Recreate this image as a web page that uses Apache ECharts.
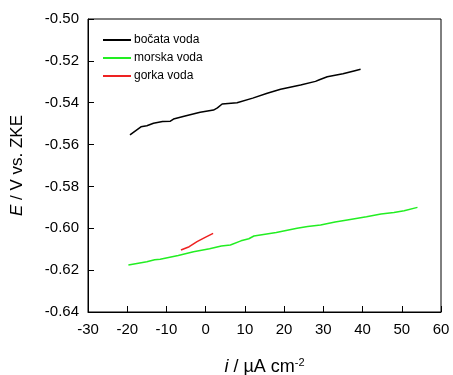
<!DOCTYPE html>
<html><head><meta charset="utf-8">
<script src="https://cdn.jsdelivr.net/npm/echarts@6/dist/echarts.min.js"></script>
<style>html,body{margin:0;padding:0;background:#fff}#c{width:453px;height:375px}</style>
</head><body><div id="c"></div>
<script>
const xTicks = [-30,-20,-10,0,10,20,30,40,50,60];
const yTicks = [-0.64,-0.62,-0.60,-0.58,-0.56,-0.54,-0.52,-0.50];
const seriesNames = ['bočata voda','morska voda','gorka voda'];
const bocataI = [-19.3,-16.5,-15,-13.3,-11,-9,-8.2,-5,-1.4,2.0,3,4.2,8.0,12,15.7,19.1,24.2,28,29,31.0,35,37.8,39.5];
const bocataE = [-0.5554,-0.5515,-0.5510,-0.5498,-0.5490,-0.5488,-0.5478,-0.5462,-0.5446,-0.5435,-0.5425,-0.5406,-0.5400,-0.5378,-0.5355,-0.5336,-0.5315,-0.5298,-0.5290,-0.5276,-0.5262,-0.5248,-0.5240];
const morskaI = [-19.7,-15,-13,-11.6,-7,-3.1,1,4,6.3,9,11,12.3,18,23.3,26,29.3,33,36.1,41,44.7,48,50.6,54.0];
const morskaE = [-0.6175,-0.6160,-0.6150,-0.6148,-0.6130,-0.6112,-0.6098,-0.6085,-0.6080,-0.6060,-0.6050,-0.6037,-0.6020,-0.6000,-0.5992,-0.5984,-0.5970,-0.5960,-0.5945,-0.5932,-0.5925,-0.5916,-0.5900];
const gorkaI = [-6.3,-4.2,-2.2,0,1.9];
const gorkaE = [-0.6104,-0.6088,-0.6064,-0.6042,-0.6024];

const zip = (a,b)=>a.map((v,i)=>[v,b[i]]);
const chart = echarts.init(document.getElementById('c'));
const font = 'Liberation Sans, Arial, sans-serif';
chart.setOption({
  animation:false,
  grid:{left:88,right:12,top:19,bottom:63,show:true,borderColor:'#000',borderWidth:1,outerBoundsMode:'none',containLabel:false},
  legend:{
    left:98, top:28, orient:'vertical', itemGap:4, itemWidth:28, itemHeight:2,
    icon:'rect',
    textStyle:{fontFamily:font,fontSize:12,color:'#000',padding:[0,0,0,-2],lineHeight:14},
    data:seriesNames
  },
  xAxis:{
    type:'value',min:-30,max:60,interval:10,
    axisLine:{onZero:false,lineStyle:{color:'#000'}},
    axisTick:{inside:true,length:6,lineStyle:{color:'#000'}},
    splitLine:{show:false},
    axisLabel:{fontFamily:font,fontSize:15,color:'#000',margin:10,formatter:v=>String(v)},
    name:'{it|i} / µA cm{sup|-2}', nameLocation:'middle', nameGap:45,
    nameTextStyle:{fontFamily:font,fontSize:18,color:'#000',
      rich:{it:{fontStyle:'italic',fontFamily:font,fontSize:18},sup:{fontSize:11,verticalAlign:'top',padding:[0,0,9,0],fontFamily:font}}}
  },
  yAxis:{
    type:'value',min:-0.64,max:-0.50,interval:0.02,
    axisLine:{onZero:false,lineStyle:{color:'#000'}},
    axisTick:{inside:true,length:6,lineStyle:{color:'#000'}},
    splitLine:{show:false},
    axisLabel:{fontFamily:font,fontSize:15,color:'#000',margin:9,formatter:v=>v.toFixed(2)},
    name:'{it|E} / V vs. ZKE', nameLocation:'middle', nameGap:62,
    nameTextStyle:{fontFamily:font,fontSize:17,color:'#000',
      rich:{it:{fontStyle:'italic',fontFamily:font,fontSize:17}}}
  },
  series:[
    {name:seriesNames[0],type:'line',data:zip(bocataI,bocataE),showSymbol:false,lineStyle:{color:'#000',width:1.5},itemStyle:{color:'#000'}},
    {name:seriesNames[1],type:'line',data:zip(morskaI,morskaE),showSymbol:false,lineStyle:{color:'#22ee22',width:1.5},itemStyle:{color:'#22ee22'}},
    {name:seriesNames[2],type:'line',data:zip(gorkaI,gorkaE),showSymbol:false,lineStyle:{color:'#ee2222',width:1.5},itemStyle:{color:'#ee2222'}}
  ]
});
</script></body></html>
